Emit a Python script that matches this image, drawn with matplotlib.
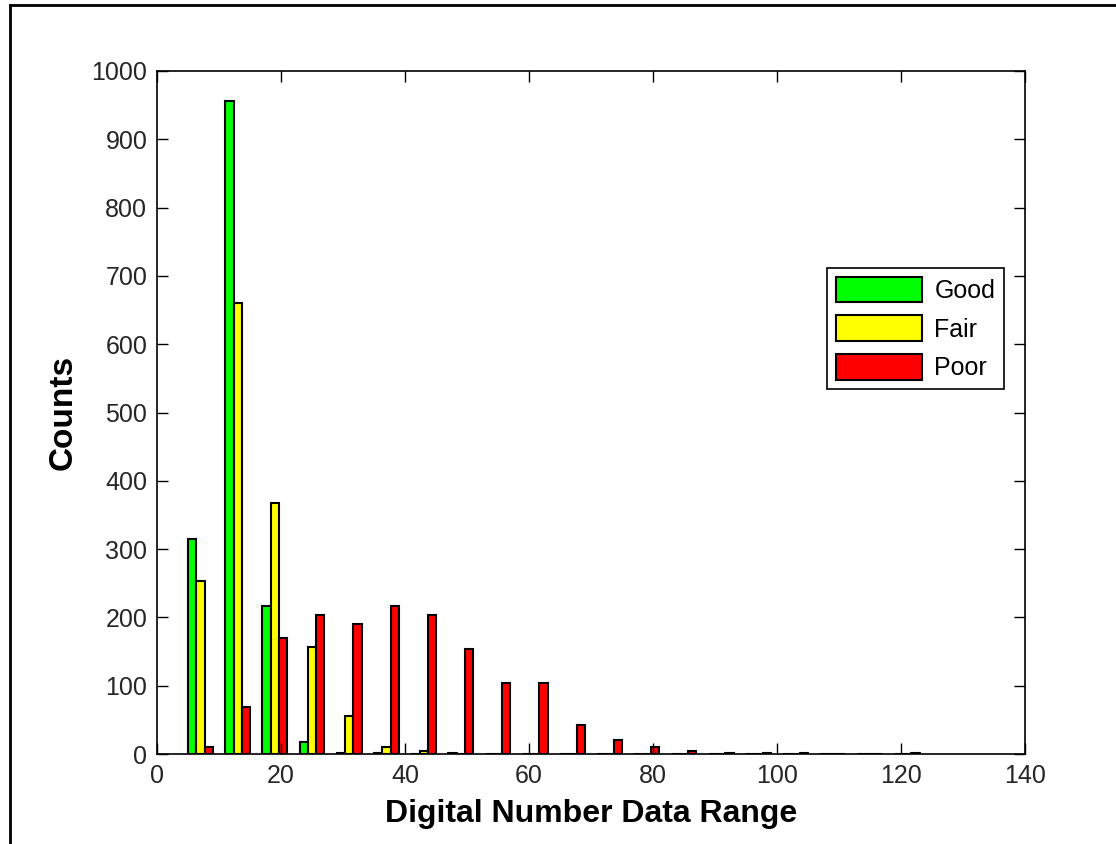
import numpy as np
import matplotlib.pyplot as plt
from matplotlib.lines import Line2D

plt.rcParams['font.family'] = ['Liberation Sans', 'DejaVu Sans']

# bin centres (digital number range) and counts per class
bin_centers = [7, 13, 19, 25, 31, 37, 43, 49, 55, 61, 67, 73, 79, 85, 91, 97, 103, 109, 115, 121]
good = [315, 956, 216, 17, 2, 2, 0, 2, 0, 0, 0, 0, 0, 0, 0, 0, 0, 0, 0, 0]
fair = [253, 661, 367, 156, 55, 11, 4, 0, 0, 0, 0, 0, 0, 0, 0, 0, 0, 0, 0, 0]
poor = [10, 69, 170, 203, 190, 216, 203, 154, 104, 104, 43, 20, 11, 5, 2, 2, 2, 0, 0, 2]

series = [('Good', good, '#00ff00'), ('Fair', fair, '#ffff00'), ('Poor', poor, '#ff0000')]

fig = plt.figure(figsize=(11.16, 8.44), dpi=100)
ax = fig.add_axes([0.1407, 0.1066, 0.7778, 0.8093])

x = np.array(bin_centers, dtype=float)
w = 1.33
for i, (name, vals, col) in enumerate(series):
    ax.bar(x + (i - 1) * w, vals, width=w, color=col, edgecolor='black',
           linewidth=1.5, label=name)

ax.set_xlim(0, 140)
ax.set_ylim(0, 1000)
ax.set_xticks(range(0, 141, 20))
ax.set_yticks(range(0, 1001, 100))
ax.tick_params(direction='in', length=8, width=1, top=True, right=True,
               labelsize=18, pad=7, colors='black', labelcolor='#262626')
for s in ax.spines.values():
    s.set_linewidth(1.2)

ax.set_xlabel('Digital Number Data Range', fontsize=23, fontweight='bold', labelpad=8)
ax.set_ylabel('Counts', fontsize=24, fontweight='bold', labelpad=9)

leg = ax.legend(loc='upper right', bbox_to_anchor=(0.8996, 0.6825),
                bbox_transform=fig.transFigure, fontsize=18, frameon=True,
                fancybox=False, framealpha=1, edgecolor='black',
                handlelength=3.45, handleheight=1.2, labelspacing=0.5,
                borderpad=0.35, handletextpad=0.5, borderaxespad=0)
leg.get_frame().set_linewidth(1.2)

# figure frame (only left and top edges visible in the screenshot)
fig.add_artist(Line2D([10 / 1116, 1], [1 - 5 / 844, 1 - 5 / 844],
                      transform=fig.transFigure, color='black', linewidth=2))
fig.add_artist(Line2D([10 / 1116, 10 / 1116], [0, 1 - 5 / 844],
                      transform=fig.transFigure, color='black', linewidth=2))

fig.savefig('out.png', dpi=100)
